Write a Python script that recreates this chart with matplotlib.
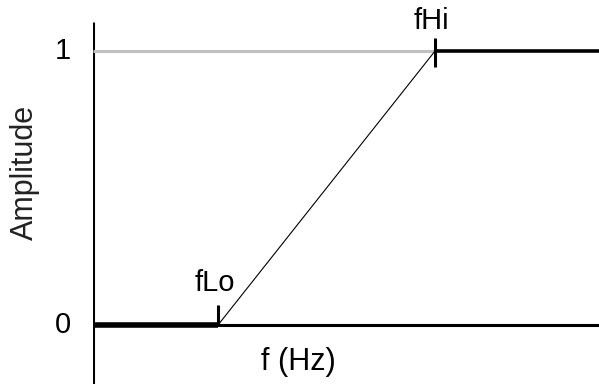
import matplotlib.pyplot as plt

plt.rcParams['font.family'] = ['Liberation Sans', 'DejaVu Sans']

# filter response (normalised frequency)
f_lo = 0.247
f_hi = 0.676
ramp_f = [f_lo, f_hi]
ramp_amp = [0, 1]
amp_levels = [0, 1]
level_labels = ['0', '1']

fig = plt.figure(figsize=(5.99, 3.84), dpi=100)
ax = fig.add_axes([93 / 599, 0, 1 - 93 / 599, 1])
ax.set_xlim(0, 1)
ax.set_ylim(-0.215, 1.186)
ax.axis('off')

# axes lines
ax.plot([0, 0], [-0.215, 1.106], color='black', lw=2.2, solid_capstyle='butt')
ax.plot([0, 1], [0, 0], color='black', lw=2.2, solid_capstyle='butt')
ax.plot([0, f_hi], [1, 1], color='#c0c0c0', lw=2.2, solid_capstyle='butt')

# stop band / pass band
ax.plot([0, f_lo], [0, 0], color='black', lw=4, solid_capstyle='butt')
ax.plot([f_hi, 1], [1, 1], color='black', lw=2.6, solid_capstyle='butt')
ax.plot(ramp_f, ramp_amp, color='black', lw=0.8)

# ticks at corner freqs
ax.plot([f_lo, f_lo], [0, 0.073], color='black', lw=2.2, solid_capstyle='butt')
ax.plot([f_hi, f_hi], [0.942, 1.047], color='black', lw=2.2, solid_capstyle='butt')

ax.text(f_lo - 0.006, 0.155, 'fLo', fontsize=21, ha='center', va='center')
ax.text(f_hi - 0.008, 1.11, 'fHi', fontsize=21, ha='center', va='center')

for a, lab in zip(amp_levels, level_labels):
    ax.text(-0.06, a, lab, fontsize=21, ha='center', va='center')

ax.text(0.405, -0.135, 'f (Hz)', fontsize=22, ha='center', va='center')
ax.text(-0.134, 0.558, 'Amplitude', fontsize=22, ha='center', va='center',
        rotation=90, color='#222222')

fig.savefig('out.png', dpi=100)
